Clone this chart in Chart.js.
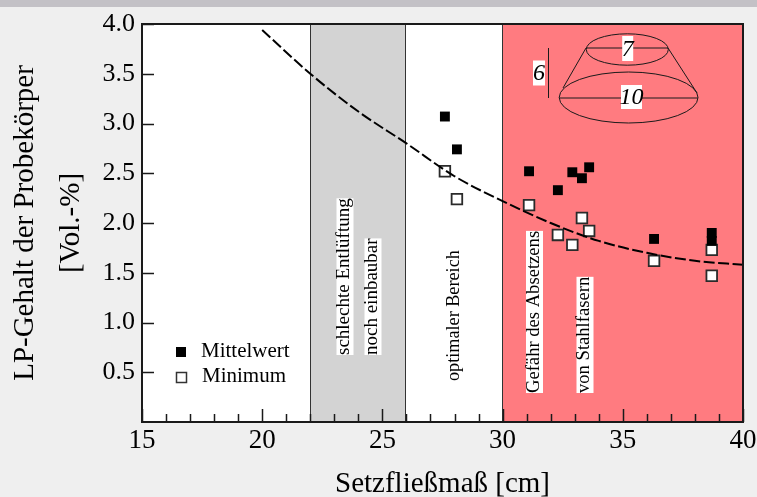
<!DOCTYPE html>
<html>
<head>
<meta charset="utf-8">
<title>LP-Gehalt</title>
<script src="https://cdn.jsdelivr.net/npm/chart.js@4"></script>
<style>
  html, body { margin: 0; padding: 0; background: #efefef; }
  body { width: 757px; height: 497px; overflow: hidden; background: linear-gradient(#c3c1c6 0, #c3c1c6 7px, #efefef 7px); }
  canvas { display: block; }
</style>
</head>
<body>
<canvas id="chart" width="757" height="497"></canvas>
<script>
const meanX = [27.6, 28.1, 31.1, 32.3, 32.9, 33.3, 33.6, 36.3, 38.7, 38.7];
const meanY = [3.07, 2.74, 2.52, 2.33, 2.51, 2.45, 2.56, 1.84, 1.90, 1.82];
const minX = [27.6, 28.1, 31.1, 32.3, 32.9, 33.3, 33.6, 36.3, 38.7, 38.7];
const minY = [2.52, 2.24, 2.18, 1.88, 1.78, 2.05, 1.92, 1.62, 1.73, 1.47];
const curveX = [20, 22, 24, 26, 28, 30, 32, 34, 36, 38, 40];
const curveY = [3.94, 3.50, 3.12, 2.80, 2.47, 2.22, 2.00, 1.82, 1.70, 1.62, 1.58];

const xTickLabels = [15, 20, 25, 30, 35, 40];
const yTickLabels = ["", "0.5", "1.0", "1.5", "2.0", "2.5", "3.0", "3.5", "4.0"];

const grayBand = [22, 25.96];
const redBand = [29.98, 40];

const SERIF = '"Liberation Serif", serif';

const toPoints = (xs, ys) => xs.map((x, i) => ({ x, y: ys[i] }));

// farbige Bereiche hinter den Daten
const bandsPlugin = {
  id: "bands",
  beforeDatasetsDraw(chart) {
    const { ctx, chartArea: a, scales: { x } } = chart;
    ctx.save();
    ctx.fillStyle = "#ffffff";
    ctx.fillRect(a.left, a.top, a.width, a.height);
    ctx.fillStyle = "#d3d3d3";
    ctx.fillRect(x.getPixelForValue(grayBand[0]), a.top, x.getPixelForValue(grayBand[1]) - x.getPixelForValue(grayBand[0]), a.height);
    ctx.fillStyle = "#ff7b80";
    ctx.fillRect(x.getPixelForValue(redBand[0]), a.top, x.getPixelForValue(redBand[1]) - x.getPixelForValue(redBand[0]), a.height);
    ctx.strokeStyle = "#333333";
    ctx.lineWidth = 1;
    for (const v of [grayBand[0], grayBand[1], redBand[0]]) {
      const px = Math.floor(x.getPixelForValue(v)) + 0.5;
      ctx.beginPath();
      ctx.moveTo(px, a.top);
      ctx.lineTo(px, a.bottom);
      ctx.stroke();
    }
    ctx.restore();
  }
};

function verticalText(ctx, text, cx, bottom, size, white) {
  ctx.save();
  ctx.font = size + "px " + SERIF;
  const w = ctx.measureText(text).width;
  if (white) {
    ctx.fillStyle = "#ffffff";
    ctx.fillRect(cx - 8, bottom - w, 17, w);
  }
  ctx.translate(cx, bottom);
  ctx.rotate(-Math.PI / 2);
  ctx.fillStyle = "#000000";
  ctx.textBaseline = "middle";
  ctx.textAlign = "left";
  ctx.fillText(text, 0, 0);
  ctx.restore();
}

function whiteLabel(ctx, text, cx, cy, w, h) {
  ctx.fillStyle = "#ffffff";
  ctx.fillRect(cx - w / 2, cy - h / 2, w, h);
  ctx.fillStyle = "#000000";
  ctx.font = "italic 24px " + SERIF;
  ctx.textAlign = "center";
  ctx.textBaseline = "middle";
  ctx.fillText(text, cx, cy + 1);
}

// Achsenstriche nach innen, Rahmen, Beschriftungen, Kegel, Legende
const overlayPlugin = {
  id: "overlay",
  afterDraw(chart) {
    const { ctx, chartArea: a, scales: { x, y } } = chart;
    ctx.save();

    // Text in den Bereichen
    verticalText(ctx, "schlechte Entlüftung", 344.5, 355, 19, true);
    verticalText(ctx, "noch einbaubar", 372.5, 355, 19, true);
    verticalText(ctx, "optimaler Bereich", 454, 381, 18.2, false);
    verticalText(ctx, "Gefähr des Absetzens", 534, 393, 18.6, true);
    verticalText(ctx, "von Stahlfasern", 584.5, 393, 18.6, true);

    // Kegel
    ctx.strokeStyle = "#1a1a1a";
    ctx.lineWidth = 1;
    ctx.beginPath();
    ctx.ellipse(627.3, 49.5, 41, 15.7, 0, 0, Math.PI * 2);
    ctx.moveTo(698, 97.5);
    ctx.ellipse(628.6, 97.5, 69.4, 25.5, 0, 0, Math.PI * 2);
    ctx.moveTo(586, 48); ctx.lineTo(668, 48);
    ctx.moveTo(559, 98); ctx.lineTo(698, 98);
    ctx.moveTo(586, 48); ctx.lineTo(563, 88);
    ctx.moveTo(668, 48); ctx.lineTo(697, 93);
    ctx.moveTo(548.5, 48); ctx.lineTo(548.5, 98);
    ctx.stroke();
    whiteLabel(ctx, "7", 627.7, 48.5, 11, 25);
    whiteLabel(ctx, "10", 631.5, 97, 21, 24);
    whiteLabel(ctx, "6", 539, 73, 12, 25);

    // Striche
    ctx.strokeStyle = "#1a1a1a";
    ctx.lineWidth = 1.5;
    ctx.beginPath();
    for (let v = 15; v <= 40; v++) {
      const px = Math.round(x.getPixelForValue(v)) + 0.5;
      ctx.moveTo(px, a.bottom);
      ctx.lineTo(px, a.bottom - (v % 5 === 0 ? 13 : 8));
    }
    for (let v = 0.5; v <= 4; v += 0.5) {
      const py = Math.round(y.getPixelForValue(v)) + 0.5;
      ctx.moveTo(a.left, py);
      ctx.lineTo(a.left + 12, py);
    }
    ctx.stroke();

    // Rahmen
    ctx.lineWidth = 2;
    ctx.strokeRect(a.left, a.top, a.width, a.height);

    // Legende
    ctx.fillStyle = "#000000";
    ctx.fillRect(176, 347, 10, 10);
    ctx.lineWidth = 1.5;
    ctx.strokeStyle = "#333333";
    ctx.fillStyle = "#ffffff";
    ctx.fillRect(176.5, 372.5, 10, 10);
    ctx.strokeRect(176.5, 372.5, 10, 10);
    ctx.fillStyle = "#000000";
    ctx.font = "21px " + SERIF;
    ctx.textAlign = "left";
    ctx.textBaseline = "middle";
    ctx.fillText("Mittelwert", 201, 351);
    ctx.fillText("Minimum", 202, 376);

    ctx.restore();
  }
};

new Chart(document.getElementById("chart"), {
  type: "scatter",
  data: {
    datasets: [
      {
        label: "Kurve",
        data: toPoints(curveX, curveY),
        showLine: true,
        cubicInterpolationMode: "monotone",
        borderColor: "#000000",
        borderWidth: 2,
        borderDash: [11, 3.5],
        pointRadius: 0
      },
      {
        label: "Mittelwert",
        data: toPoints(meanX, meanY),
        pointStyle: "rect",
        pointRadius: 7,
        backgroundColor: "#000000",
        borderColor: "#000000",
        borderWidth: 0
      },
      {
        label: "Minimum",
        data: toPoints(minX, minY),
        pointStyle: "rect",
        pointRadius: 7.5,
        backgroundColor: "#ffffff",
        borderColor: "#2a2a2a",
        borderWidth: 1.8
      }
    ]
  },
  options: {
    responsive: false,
    animation: false,
    layout: { padding: { top: 24, right: 14, bottom: 0, left: 2 } },
    plugins: { legend: { display: false }, tooltip: { enabled: false } },
    scales: {
      x: {
        type: "linear",
        min: 15,
        max: 40,
        afterFit(scale) {
          scale.height = 75;
          scale.paddingLeft = 0;
          scale.paddingRight = 0;
        },
        afterBuildTicks(scale) { scale.ticks = xTickLabels.map(value => ({ value })); },
        grid: { display: false, drawTicks: false },
        border: { display: false },
        ticks: { color: "#000000", font: { family: SERIF, size: 27 }, padding: 3, maxRotation: 0 },
        title: { display: true, text: "Setzfließmaß [cm]", color: "#000000", font: { family: SERIF, size: 29, lineHeight: 1 }, padding: { top: 0, bottom: -2 } }
      },
      y: {
        min: 0,
        max: 4,
        afterFit(scale) {
          scale.width = 140;
          scale.paddingTop = 0;
          scale.paddingBottom = 0;
        },
        grid: { display: false, drawTicks: false },
        border: { display: false },
        ticks: {
          stepSize: 0.5,
          color: "#000000",
          font: { family: SERIF, size: 26 },
          padding: 7,
          callback: (value, i) => yTickLabels[i]
        },
        title: { display: true, text: ["LP-Gehalt der Probekörper", "[Vol.-%]"], color: "#000000", font: { family: SERIF, size: 29, lineHeight: 1.6 }, padding: 0 }
      }
    }
  },
  plugins: [bandsPlugin, overlayPlugin]
});
</script>
</body>
</html>
